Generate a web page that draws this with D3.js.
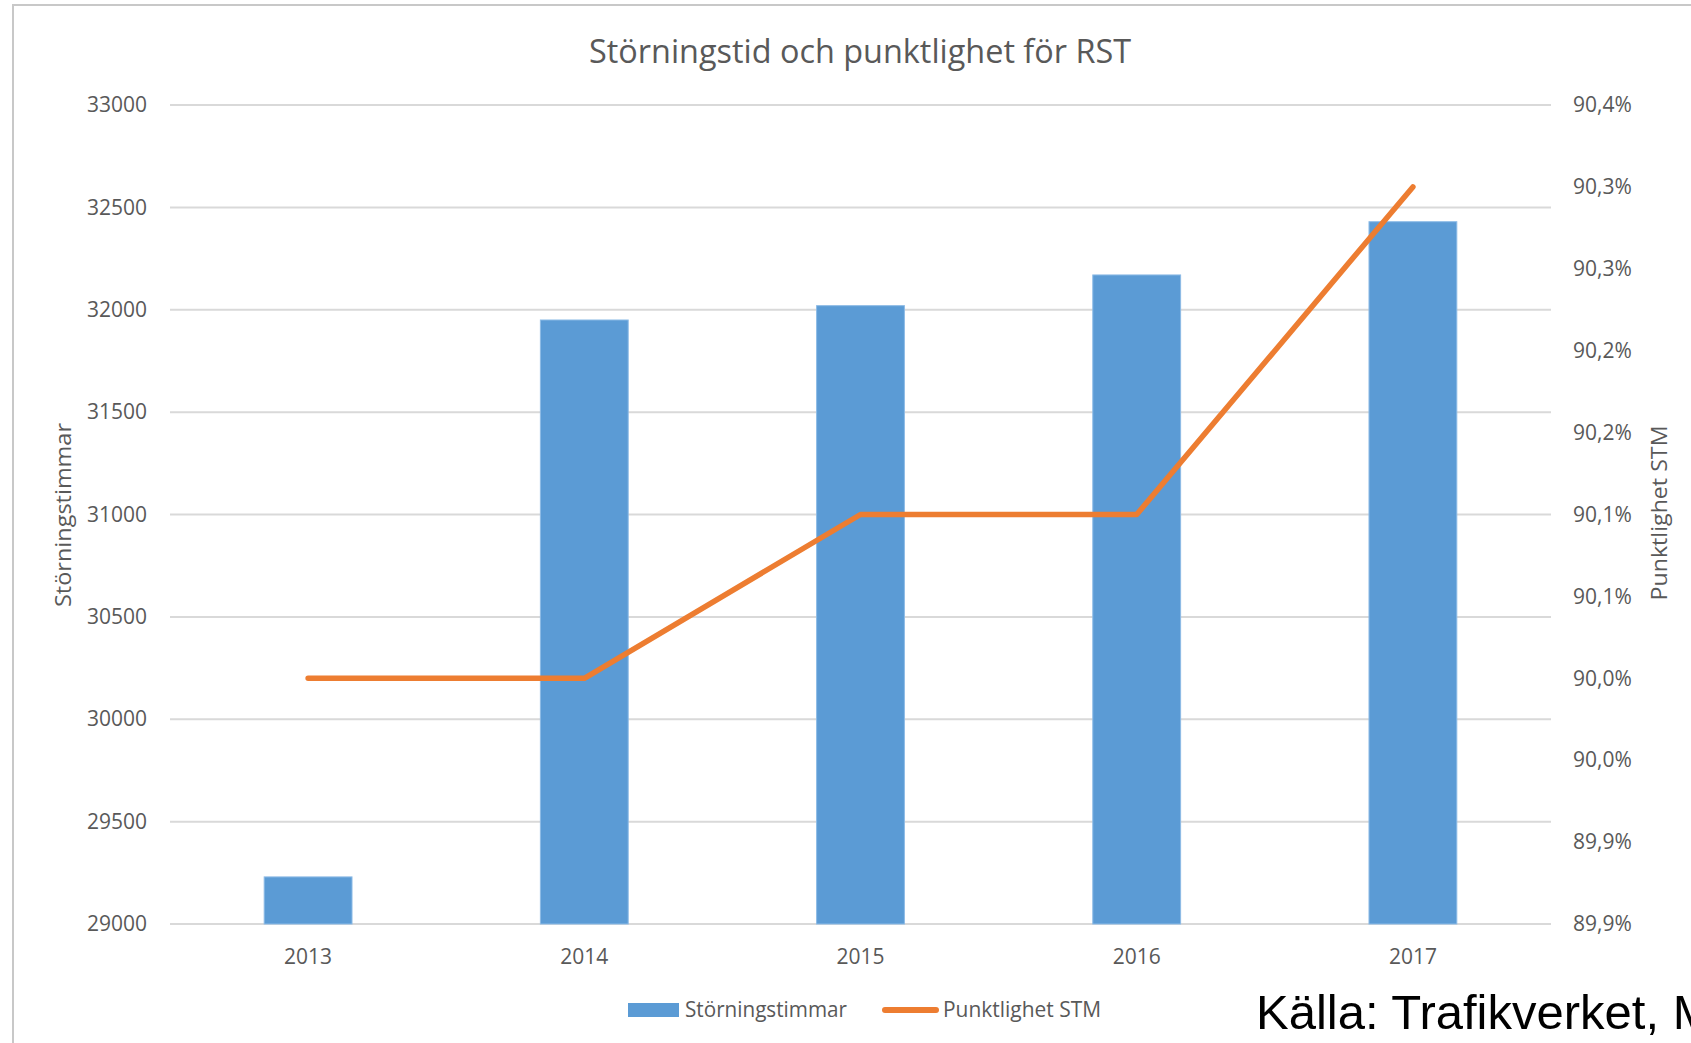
<!DOCTYPE html>
<html>
<head>
<meta charset="utf-8">
<script src="https://cdn.jsdelivr.net/npm/d3@7"></script>
<style>
  body { margin: 0; background: #fff; }
  svg { display: block; }
  text { font-family: "Open Sans", sans-serif; fill: #595959; }
</style>
</head>
<body>
<div id="chart"></div>
<script>
// data
let years = ["2013", "2014", "2015", "2016", "2017"];
let storningstimmar = [29230, 31950, 32020, 32170, 32430];
let punktlighet = [90.0, 90.0, 90.1, 90.1, 90.3];
let leftTicks = [29000, 29500, 30000, 30500, 31000, 31500, 32000, 32500, 33000];
let rightTicks = [89.85, 89.9, 89.95, 90.0, 90.05, 90.1, 90.15, 90.2, 90.25, 90.3, 90.35];

let W = 1691, H = 1043;
let margin = {top: 105, right: 140, bottom: 119, left: 170},
    width = W - margin.left - margin.right,
    height = H - margin.top - margin.bottom;

let svg = d3.select("#chart").append("svg")
    .attr("width", W)
    .attr("height", H);

// outer frame
svg.append("rect")
    .attr("x", 13).attr("y", 5)
    .attr("width", W + 20).attr("height", H + 20)
    .attr("fill", "none")
    .attr("stroke", "#c8c8c8")
    .attr("stroke-width", 2);

let g = svg.append("g")
    .attr("transform", "translate(" + margin.left + "," + margin.top + ")");

// scales
let x = d3.scaleBand().domain(years).range([0, width]).padding(0);
let y = d3.scaleLinear().domain([29000, 33000]).range([height, 0]);
let y2 = d3.scaleLinear().domain([89.85, 90.35]).range([height, 0]);

function pct(v){
    return (Math.round(v * 10 + 1e-6) / 10).toFixed(1).replace(".", ",") + "%";
}

// gridlines
g.append("g")
    .selectAll("line")
    .data(leftTicks)
    .enter().append("line")
    .attr("x1", 0).attr("x2", width)
    .attr("y1", d => y(d)).attr("y2", d => y(d))
    .attr("stroke", "#d9d9d9")
    .attr("stroke-width", 2);

// left axis
let yAxis = g.append("g")
    .call(d3.axisLeft(y).tickValues(leftTicks).tickSize(0).tickPadding(23).tickFormat(d3.format("d")));
yAxis.select(".domain").remove();
yAxis.selectAll("text").style("font-size", "21px").style("font-family", "Open Sans").attr("fill", "#595959");

// right axis
let y2Axis = g.append("g")
    .attr("transform", "translate(" + width + ",0)")
    .call(d3.axisRight(y2).tickValues(rightTicks).tickSize(0).tickPadding(22).tickFormat(pct));
y2Axis.select(".domain").remove();
y2Axis.selectAll("text").style("font-size", "21px").style("font-family", "Open Sans").attr("fill", "#595959");

// bottom axis
let xAxis = g.append("g")
    .attr("transform", "translate(0," + height + ")")
    .call(d3.axisBottom(x).tickSize(0).tickPadding(25));
xAxis.select(".domain").remove();
xAxis.selectAll("text").style("font-size", "21px").style("font-family", "Open Sans").attr("fill", "#595959");

// bars
let barW = x.bandwidth() * 0.318;
g.selectAll(".bar")
    .data(storningstimmar)
    .enter().append("rect")
    .attr("class", "bar")
    .attr("x", (d, i) => x(years[i]) + x.bandwidth() / 2 - barW / 2)
    .attr("width", barW)
    .attr("y", d => y(d))
    .attr("height", d => height - y(d))
    .attr("fill", "#5b9bd5")
    .attr("stroke", "#8dbbe6")
    .attr("stroke-width", 1);

// line
let line = d3.line()
    .x((d, i) => x(years[i]) + x.bandwidth() / 2)
    .y(d => y2(d));
g.append("path")
    .datum(punktlighet)
    .attr("d", line)
    .attr("fill", "none")
    .attr("stroke", "#ed7d31")
    .attr("stroke-width", 5.5)
    .attr("stroke-linejoin", "round")
    .attr("stroke-linecap", "round");

// title
svg.append("text")
    .attr("x", 860).attr("y", 63)
    .attr("text-anchor", "middle")
    .attr("textLength", 542)
    .attr("lengthAdjust", "spacingAndGlyphs")
    .style("font-size", "32px")
    .text("Störningstid och punktlighet för RST");

// axis titles
svg.append("text")
    .attr("transform", "translate(71,515) rotate(-90)")
    .attr("text-anchor", "middle")
    .attr("textLength", 184)
    .attr("lengthAdjust", "spacingAndGlyphs")
    .style("font-size", "22px")
    .text("Störningstimmar");

svg.append("text")
    .attr("transform", "translate(1667,513) rotate(-90)")
    .attr("text-anchor", "middle")
    .attr("textLength", 175)
    .attr("lengthAdjust", "spacingAndGlyphs")
    .style("font-size", "22px")
    .text("Punktlighet STM");

// legend
let legend = svg.append("g");
legend.append("rect")
    .attr("x", 628).attr("y", 1003)
    .attr("width", 51).attr("height", 14)
    .attr("fill", "#5b9bd5");
legend.append("text")
    .attr("x", 685).attr("y", 1017)
    .attr("textLength", 162)
    .attr("lengthAdjust", "spacingAndGlyphs")
    .style("font-size", "21px")
    .text("Störningstimmar");
legend.append("line")
    .attr("x1", 885).attr("x2", 936)
    .attr("y1", 1010).attr("y2", 1010)
    .attr("stroke", "#ed7d31")
    .attr("stroke-width", 6)
    .attr("stroke-linecap", "round");
legend.append("text")
    .attr("x", 943).attr("y", 1017)
    .attr("textLength", 158)
    .attr("lengthAdjust", "spacingAndGlyphs")
    .style("font-size", "21px")
    .text("Punktlighet STM");

// source note, runs off the right edge as in the original
svg.append("text")
    .attr("x", 1256).attr("y", 1029)
    .style("font-family", "Liberation Sans, Arial, sans-serif")
    .style("font-size", "49px")
    .style("fill", "#000")
    .text("Källa: Trafikverket, M");
</script>
</body>
</html>
